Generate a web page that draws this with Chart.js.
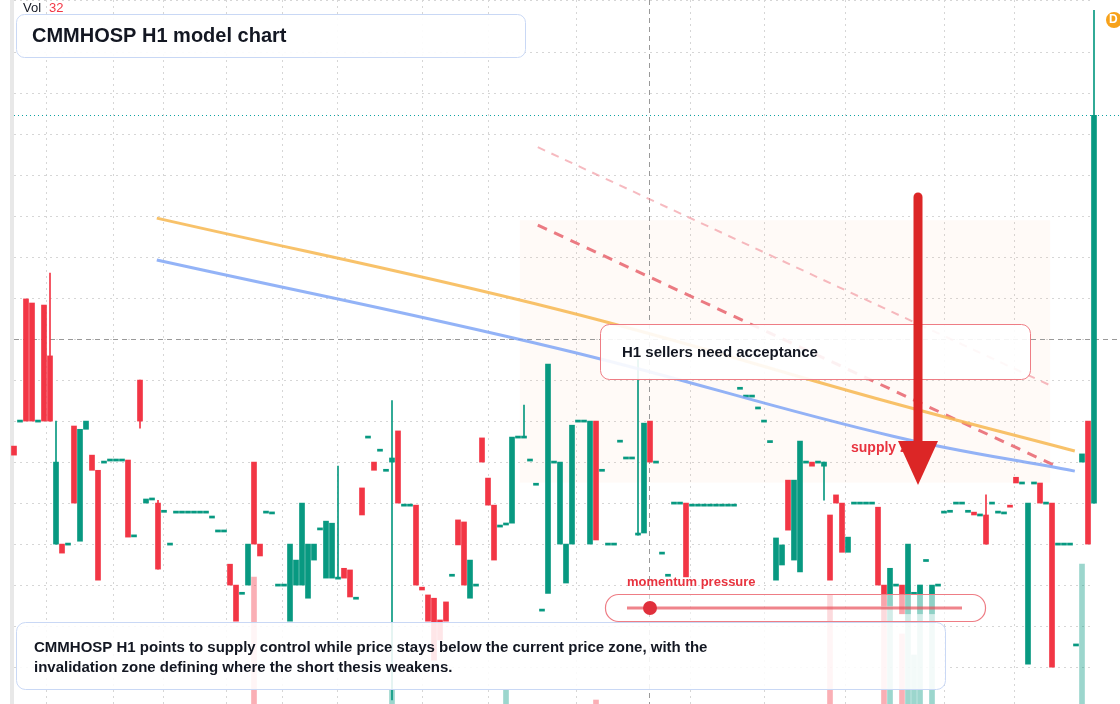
<!DOCTYPE html>
<html><head><meta charset="utf-8">
<script src="https://cdn.jsdelivr.net/npm/chart.js@4.4.1/dist/chart.umd.min.js"></script>
<style>html,body{margin:0;padding:0;background:#fff}#wrap{width:1120px;height:704px}</style>
</head><body><div id="wrap"><canvas id="c" width="1120" height="704"></canvas></div>
<script>
// candle data: [open, close, high, low] (high/low null = none)
const opens  = [99.39,100,102.98,102.88,100,102.83,101.59,97,97,97,99.88,97.07,99.8,99.17,98.8,99,99.05,99.05,99.05,99.05,97.2,101,98,98.1,98,97.8,97,97.78,97.78,97.78,97.78,97.78,97.78,97.66,97.32,97.32,96.51,96,95.8,96,99,97,97.78,97.76,96,96,95.12,96,96,95.68,96.61,97.37,96.17,96.17,96.17,96.41,96.37,95.68,98.37,99.61,99,99.29,98.8,99,99.76,97.95,97.95,97.95,95.95,95.76,95.68,95.15,95.59,96.24,97.59,97.54,95.68,96,99.59,98.61,97.95,97.44,97.49,97.51,99.61,99.61,99.05,98.46,95.39,95.8,99,97,96.05,97,100,100,97,100,98.8,97,97,99.51,99.1,99.1,97.22,97.27,100,99,96.78,96.24,98,98,98,97.95,97.95,97.95,97.95,97.95,97.95,97.95,97.95,100.8,100.61,100.61,100.32,100,99.5,96.12,96.49,98.56,96.61,96.32,99,99,99,98.9,97.71,98.2,98,96.8,98,98,98,98,97.9,96,95.5,96,96,95.3,95.8,95.3,96.6,95.3,96,97.78,97.8,98,98,97.8,97.78,97.71,97.71,98,97.78,97.76,97.95,98.63,98.49,94.07,98.49,98.49,98,98,97,97,97,94.54,99,100,98];
const closes = [99.17,100,100,100,100,100,100,99,96.78,97,98,99.8,100,98.8,96.12,99,99.05,99.05,99.05,97.17,97.2,100,98.1,98.1,96.39,97.8,97,97.78,97.78,97.78,97.78,97.78,97.78,97.66,97.32,97.32,96,95.12,95.8,97,97,96.71,97.78,97.76,96,96,97,96.61,98,97,97,97.37,97.56,97.51,96.17,96.17,95.71,95.68,97.71,99.61,98.8,99.29,98.8,99.1,98,97.95,97.95,96,95.88,95.12,94.17,94.66,95.12,96.24,96.98,96,96.61,96,99,97.95,96.61,97.44,97.49,99.61,99.61,99.61,99.05,98.46,95.39,101.39,99,99,97,99.9,100,100,100,97.1,98.8,97,97,99.51,99.1,99.1,97.27,99.95,99,99,96.78,96.24,98,98,96.2,97.95,97.95,97.95,97.95,97.95,97.95,97.95,97.95,100.8,100.61,100.61,100.32,100,99.5,97.15,96.98,97.34,98.56,99.51,99,98.9,99,99,96.12,98,96.8,97.17,98,98,98,98,96,95.5,96.41,96,95.3,97,95.8,96,96.6,96,96,97.78,97.8,98,98,97.8,97.71,97.71,97,98,97.78,97.76,97.9,98.49,98.49,98,98.49,98,98,94,97,97,97,94.54,99.2,97,107.46];
const highs = {6:103.61,7:100,21:101,24:98.07,54:98.9,63:100.5,85:100.39,104:101.5,135:99,162:98.2,180:110.02};
const lows  = {21:99.83,63:93.2,135:98.07};
const volumes = {40:127,63:14,82:14,97:4,136:109,145:109,146:104,148:70,149:119,150:49,151:119,153:114,178:140};
const orangeLine = [{x:23.8,y:104.95},{x:91,y:102.71},{x:146,y:100.46},{x:176.8,y:99.27}];
const blueLine   = [{x:23.8,y:103.93},{x:91,y:101.76},{x:146.5,y:99.63},{x:176.8,y:98.78}];
const pinkLight  = [{x:87.3,y:106.68},{x:173,y:100.85}];
const pinkDark   = [{x:87.3,y:104.78},{x:173.7,y:98.9}];
const refPrice = 102, lastPrice = 107.46, crossIndex = 105.8;
const vGrid = [5.3,16.5,24.8,35.3,44.7,53.8,68,79,93.7,112.7,125,138.5,155,166.7];

const N = opens.length;
const labels = Array.from({length:N},(_,i)=>i);
const up = '#089981', dn = '#f23645';
const bodies = opens.map((o,i)=>{const c=closes[i]; return Math.abs(o-c)<0.03?[c-0.025,c+0.025]:[Math.min(o,c),Math.max(o,c)];});
const bodyCol = opens.map((o,i)=>closes[i]>=o?up:dn);
const wicks = labels.map(i=> (highs[i]!==undefined||lows[i]!==undefined)? [lows[i]!==undefined?lows[i]:Math.min(opens[i],closes[i]), highs[i]!==undefined?highs[i]:Math.max(opens[i],closes[i])] : null);
const vols = labels.map(i=>volumes[i]!==undefined?volumes[i]:null);
const volCol = labels.map(i=>closes[i]>=opens[i]?'rgba(8,153,129,0.4)':'rgba(242,54,69,0.4)');

function rr(ctx,x,y,w,h,r){ctx.beginPath();ctx.moveTo(x+r,y);ctx.arcTo(x+w,y,x+w,y+h,r);ctx.arcTo(x+w,y+h,x,y+h,r);ctx.arcTo(x,y+h,x,y,r);ctx.arcTo(x,y,x+w,y,r);ctx.closePath();}

const overlay = {
  id:'overlay',
  beforeDatasetsDraw(chart){
    const ctx=chart.ctx, xs=chart.scales.x, ys=chart.scales.y;
    ctx.save();
    ctx.fillStyle='#e8e8e8'; ctx.fillRect(10,0,4,704);
    ctx.strokeStyle='#d6d6d6'; ctx.lineWidth=1; ctx.setLineDash([2,4]);
    vGrid.forEach(v=>{const x=Math.round(xs.getPixelForValue(v))+0.5;ctx.beginPath();ctx.moveTo(x,0);ctx.lineTo(x,704);ctx.stroke();});
    ctx.fillStyle='rgba(255,190,140,0.07)';
    ctx.fillRect(xs.getPixelForValue(84.3),ys.getPixelForValue(104.9),xs.getPixelForValue(172.7)-xs.getPixelForValue(84.3),ys.getPixelForValue(98.5)-ys.getPixelForValue(104.9));
    ctx.strokeStyle='#999'; ctx.setLineDash([5,4]);
    let y=Math.round(ys.getPixelForValue(refPrice))+0.5; ctx.beginPath();ctx.moveTo(14,y);ctx.lineTo(1120,y);ctx.stroke();
    let x=Math.round(xs.getPixelForValue(crossIndex))+0.5; ctx.beginPath();ctx.moveTo(x,0);ctx.lineTo(x,704);ctx.stroke();
    ctx.strokeStyle='#0fa3a3'; ctx.setLineDash([1,3]);
    y=Math.round(ys.getPixelForValue(lastPrice))+0.5; ctx.beginPath();ctx.moveTo(14,y);ctx.lineTo(1120,y);ctx.stroke();
    ctx.restore();
  },
  afterDraw(chart){
    const ctx=chart.ctx; ctx.save(); ctx.setLineDash([]);
    rr(ctx,16.5,14.5,509,43,8); ctx.fillStyle='rgba(255,255,255,0.92)'; ctx.fill(); ctx.strokeStyle='#c9d8f5'; ctx.lineWidth=1; ctx.stroke();
    ctx.fillStyle='#131722'; ctx.font='bold 20px "Liberation Sans", Arial'; ctx.textBaseline='middle'; ctx.fillText('CMMHOSP H1 model chart',32,36);
    ctx.font='13px "Liberation Sans", Arial'; ctx.fillStyle='#131722'; ctx.fillText('Vol',23,8); ctx.fillStyle=dn; ctx.fillText('32',49,8);
    ctx.fillStyle='#f7a21b'; ctx.beginPath(); ctx.arc(1114,20,8,0,Math.PI*2); ctx.fill();
    ctx.fillStyle='#fff'; ctx.font='bold 12px "Liberation Sans", Arial'; ctx.fillText('D',1109,20);
    rr(ctx,600.5,324.5,430,55,9); ctx.fillStyle='rgba(255,255,255,0.9)'; ctx.fill(); ctx.strokeStyle='#ee7d85'; ctx.stroke();
    ctx.fillStyle='#131722'; ctx.font='bold 15px "Liberation Sans", Arial'; ctx.fillText('H1 sellers need acceptance',622,353);
    ctx.fillStyle='#e8333f'; ctx.font='bold 14px "Liberation Sans", Arial'; ctx.fillText('supply zone',851,448);
    ctx.strokeStyle='#dc2626'; ctx.lineWidth=9; ctx.lineCap='round'; ctx.beginPath(); ctx.moveTo(918,197); ctx.lineTo(918,445); ctx.stroke();
    ctx.fillStyle='#dc2626'; ctx.beginPath(); ctx.moveTo(898,441); ctx.lineTo(938,441); ctx.lineTo(918,485); ctx.closePath(); ctx.fill();
    ctx.fillStyle='#e8333f'; ctx.font='bold 13px "Liberation Sans", Arial'; ctx.fillText('momentum pressure',627,582);
    rr(ctx,605.5,594.5,380,27,13); ctx.fillStyle='rgba(255,255,255,0.55)'; ctx.fill(); ctx.strokeStyle='#ee7d85'; ctx.lineWidth=1.2; ctx.stroke();
    ctx.strokeStyle='rgba(232,80,90,0.7)'; ctx.lineWidth=3; ctx.lineCap='butt'; ctx.beginPath(); ctx.moveTo(627,608); ctx.lineTo(962,608); ctx.stroke();
    ctx.fillStyle='#e0303c'; ctx.beginPath(); ctx.arc(650,608,7,0,Math.PI*2); ctx.fill();
    rr(ctx,16.5,622.5,929,67,9); ctx.fillStyle='rgba(255,255,255,0.88)'; ctx.fill(); ctx.strokeStyle='#c9d8f5'; ctx.lineWidth=1; ctx.stroke();
    ctx.fillStyle='#131722'; ctx.font='bold 15px "Liberation Sans", Arial';
    ctx.fillText('CMMHOSP H1 points to supply control while price stays below the current price zone, with the',34,648);
    ctx.fillText('invalidation zone defining where the short thesis weakens.',34,668);
    ctx.restore();
  }
};

new Chart(document.getElementById('c'),{
  data:{labels,datasets:[
    {type:'line',data:orangeLine,borderColor:'rgba(247,183,80,0.85)',borderWidth:3,pointRadius:0,tension:0.4,xAxisID:'xl'},
    {type:'line',data:blueLine,borderColor:'rgba(120,160,245,0.8)',borderWidth:3,pointRadius:0,tension:0.4,xAxisID:'xl'},
    {type:'line',data:pinkLight,borderColor:'rgba(240,140,150,0.6)',borderWidth:2,borderDash:[8,7],pointRadius:0,xAxisID:'xl'},
    {type:'line',data:pinkDark,borderColor:'rgba(230,90,100,0.8)',borderWidth:3,borderDash:[10,8],pointRadius:0,xAxisID:'xl'},
    {type:'bar',data:wicks,backgroundColor:bodyCol,barThickness:1,grouped:false,clip:false},
    {type:'bar',data:bodies,backgroundColor:bodyCol,barThickness:5,grouped:false,clip:false},
    {type:'bar',data:vols,backgroundColor:volCol,barThickness:5,grouped:false,yAxisID:'yv',clip:false}
  ]},
  options:{responsive:false,animation:false,layout:{padding:{left:14,right:26,top:0,bottom:0}},
    plugins:{legend:{display:false},tooltip:{enabled:false}},
    scales:{
      x:{type:'category',offset:false,display:false},
      xl:{type:'linear',min:0,max:N-1,display:false},
      y:{min:93.1,max:110.27,display:true,position:'right',ticks:{display:false,stepSize:1},border:{display:false,dash:[2,4]},grid:{color:'#d6d6d6',drawTicks:false,tickLength:0}},
      yv:{min:0,max:704,display:false}
    }},
  plugins:[overlay]
});
</script></body></html>
